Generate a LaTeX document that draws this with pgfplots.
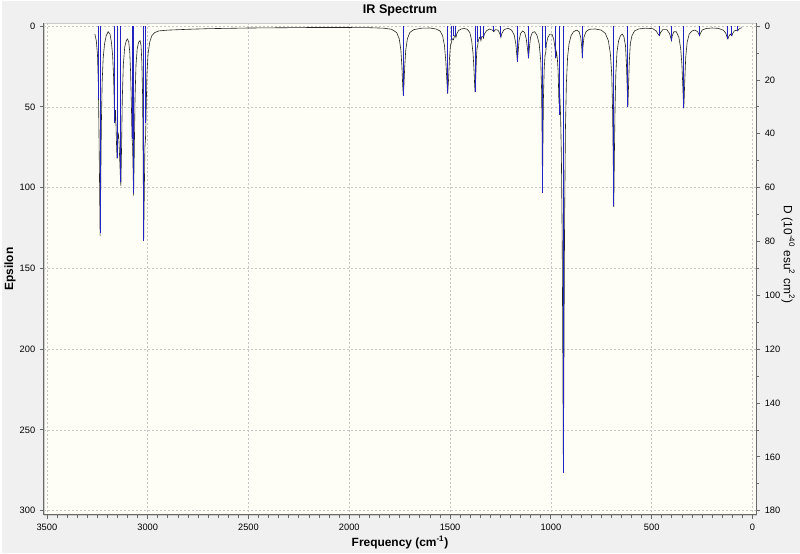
\documentclass[border=0pt]{standalone}
\usepackage{fontspec}
\setmainfont{Liberation Sans}
\usepackage{pgfplots}
\pgfplotsset{compat=1.18}

\definecolor{winbg}{RGB}{240,240,240}
\definecolor{plotbg}{RGB}{254,254,246}
\definecolor{stick}{RGB}{35,35,195}
\definecolor{axisgray}{RGB}{105,105,105}

\pgfplotsset{
  irbase/.style={
    at={(0,0)}, anchor=south west,
    scale only axis, width=535.5bp, height=369.75bp,
    xmin=-18, xmax=3515, x dir=reverse, y dir=reverse,
    tick align=outside, major tick length=3bp, minor tick length=2bp,
    tick style={axisgray, line width=0.6bp},
    axis line style={axisgray, line width=0.9bp},
    ticklabel style={font=\fontsize{7}{8}\selectfont},
    /pgf/number format/assume math mode=true,
    /pgf/number format/1000 sep={},
  },
}

\begin{document}
\begin{tikzpicture}
\fill[winbg] (-31.5bp,-28.5bp) rectangle (568.5bp,386.25bp);

% broadened spectrum, epsilon (left axis)
\begin{axis}[irbase, name=main,
  ymin=-1.85, ymax=302.6,
  axis x line*=bottom, axis y line*=left,
  axis background/.style={fill=plotbg, draw=gray!40},
  xtick={0,500,...,3500}, minor x tick num=9,
  ytick={0,50,...,300},
  grid=major,
  major grid style={gray!45, dash pattern=on 1.5bp off 1.5bp, line width=0.5bp},
]
\addplot[black!85, line width=0.45bp] coordinates {
(3262,5) (3255,9) (3249,18) (3245,35) (3242,62) (3239,95) (3236,130) (3233,100)
(3230,62) (3226,35) (3221,20) (3214,11) (3206,6) (3196,3.5) (3187,5) (3180,10)
(3174,18) (3169,32) (3165,52) (3163,60) (3160,52) (3157,62) (3154,76) (3152,82)
(3149,70) (3146,66) (3143,70) (3139,82) (3136,92) (3133,99) (3130,78) (3126,45)
(3121,24) (3114,13) (3106,9) (3100,8) (3094,10) (3089,16) (3085,28) (3081,48)
(3078,68) (3075,74) (3072,92) (3070,105) (3067,82) (3063,45) (3058,24) (3052,14)
(3045,10) (3038,9) (3033,12) (3029,22) (3025,45) (3022,95) (3020,133) (3017,105)
(3014,75) (3011,70) (3008,55) (3004,30) (2998,17) (2990,10) (2980,6) (2965,4)
(2945,3) (2900,2.5) (2800,2) (2700,1.6) (2600,1.4) (2500,1.2) (2400,1.1) (2300,1)
(2200,0.9) (2100,0.9) (2000,0.9) (1900,1) (1830,1.3) (1790,2) (1765,4) (1752,8)
(1744,15) (1739,25) (1735,37) (1732,43) (1729,37) (1725,25) (1720,15) (1712,8)
(1700,4) (1680,2.2) (1640,1.3) (1600,1.2) (1570,1.8) (1550,3) (1537,6) (1528,12)
(1521,22) (1516,34) (1512,42) (1508,34) (1503,20) (1498,12) (1495,11) (1490,8)
(1486,8) (1483,8.5) (1478,6) (1474,6) (1471,7) (1466,4.5) (1458,2.8) (1445,1.8)
(1430,1.5) (1415,2) (1402,4) (1393,9) (1386,17) (1381,28) (1378,37) (1376,41)
(1373,33) (1369,19) (1366,13) (1364,13) (1360,9) (1354,7) (1349,8) (1347,9)
(1343,6.5) (1338,6.5) (1335,7.5) (1330,5) (1320,3) (1305,1.8) (1290,2.5) (1283,3.5)
(1276,2.2) (1262,2.5) (1254,4.5) (1248,7) (1243,4.5) (1232,2.2) (1212,1.3) (1195,2.5)
(1182,5.5) (1174,11) (1169,18) (1166,22) (1163,17) (1158,9) (1150,4.5) (1140,3)
(1130,4) (1122,8) (1116,14) (1111,20) (1107,14) (1101,7) (1092,4) (1080,3.5)
(1068,6) (1058,11) (1050,22) (1046,40) (1043,75) (1042,103) (1040,80) (1037,45)
(1033,26) (1029,18) (1026,17) (1022,11) (1015,7) (1005,5) (995,5) (986,8)
(980,13) (976,20) (972,16) (968,20) (964,28) (960,48) (956,42) (952,55)
(948,80) (944,130) (941,200) (938,276) (935,200) (932,120) (928,65) (923,35)
(917,19) (910,11) (900,6) (888,3.5) (872,2.5) (860,3.5) (852,7) (847,13)
(844,20) (841,13) (836,7) (826,3.5) (810,2) (780,1.8) (750,2.5) (730,4.5)
(715,9) (705,17) (698,30) (694,52) (691,80) (688,112) (685,80) (682,52)
(678,30) (672,16) (664,9) (655,6) (646,5) (638,6.5) (630,12) (625,24)
(621,40) (618,50) (615,38) (611,22) (606,11) (598,6) (585,3) (565,1.8)
(530,1.3) (495,1.6) (478,3) (468,5) (462,6) (456,4) (445,2.2) (425,2.2)
(412,4.5) (406,7) (402,9) (398,6) (390,3.5) (378,3.5) (365,7) (356,14)
(350,24) (346,36) (343,46) (341,51) (339,46) (336,34) (331,19) (324,10)
(314,5) (300,3) (285,2.5) (272,3.5) (266,5) (262,6) (258,4.5) (250,2.5)
(230,1.5) (200,1.2) (170,1.4) (145,2.5) (132,4.5) (126,7) (122,8) (118,6.5)
(110,5) (106,5.5) (102,6) (98,4.5) (90,3) (80,2.5) (74,3) (68,2)
(60,1.3) (52,1)
};
\end{axis}

% dipole strength sticks, D (right axis)
\begin{axis}[irbase,
  ymin=-1.11, ymax=181.56,
  axis x line=none, axis y line*=right,
  ytick={0,20,...,180}, minor y tick num=1,
]
\addplot[ycomb, stick, line width=0.8bp] coordinates {
(3243,27) (3236,77) (3163,36) (3152,49) (3133,58) (3077,42) (3070,62) (3020,80)
(3010,36) (1732,26) (1512,25) (1495,5) (1483,3.6) (1471,3.6) (1376,24.6) (1364,6)
(1347,4.8) (1335,4.2) (1283,1.8) (1248,4.2) (1166,13.2) (1111,12) (1042,62) (1026,8)
(976,12) (958,33) (938,166) (844,12) (688,67) (618,30) (462,3.6) (402,5.4)
(341,30.6) (262,3.6) (122,4.8) (102,3.6) (74,1.8)
};
\end{axis}

\node[font=\bfseries\fontsize{9.5}{11}\selectfont] at ([yshift=9.75bp]main.north) {IR Spectrum};
\node[font=\bfseries\fontsize{9}{11}\selectfont] at ([yshift=-21bp]main.south) {Frequency (cm\textsuperscript{-1})};
\node[font=\bfseries\fontsize{9}{11}\selectfont, rotate=90] at ([xshift=-25.5bp]main.west) {Epsilon};
\node[font=\fontsize{9}{11}\selectfont, rotate=-90] at ([xshift=24bp, yshift=10.9bp]main.east) {D (10\textsuperscript{-40} esu\textsuperscript{2} cm\textsuperscript{2})};
\end{tikzpicture}
\end{document}
